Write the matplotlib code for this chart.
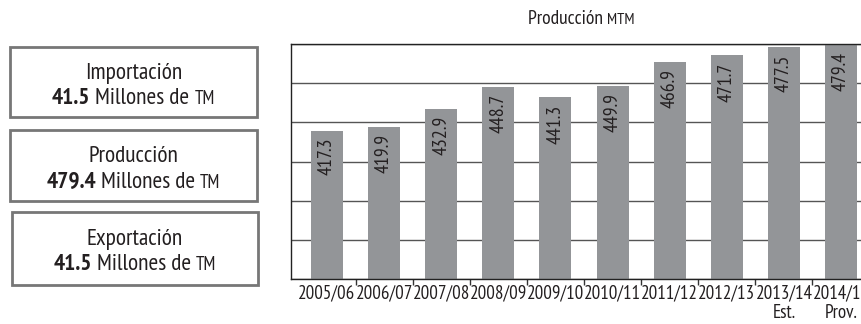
import matplotlib
matplotlib.use("Agg")
import matplotlib.pyplot as plt
from matplotlib.patches import Rectangle
import numpy as np

plt.rcParams['font.family'] = ['PT Sans Narrow', 'DejaVu Sans']

categories = ["2005/06", "2006/07", "2007/08", "2008/09", "2009/10",
              "2010/11", "2011/12", "2012/13", "2013/14", "2014/15"]
sub_labels = ["", "", "", "", "", "", "", "", "Est.", "Prov."]
values = [417.3, 419.9, 432.9, 448.7, 441.3, 449.9, 466.9, 471.7, 477.5, 479.4]

box_titles = ["Importación", "Producción", "Exportación"]
box_values = ["41.5", "479.4", "41.5"]
box_unit_word = " Millones de "
box_unit_sc = "TM"

title_main = "Producción "
title_sc = "MTM"

TXT = "#231f20"
BAR = "#939598"
W, H = 862, 324

fig = plt.figure(figsize=(W / 100, H / 100), dpi=100)

def fx(px):
    return px / W

def fy(py):
    return 1 - py / H

# Chart axes (extends past right edge like the reference)
ax = fig.add_axes([fx(291), fy(279), fx(877) - fx(291), fy(44) - fy(279)])
x = np.arange(len(categories))
ax.bar(x, values, width=0.56, color=BAR, zorder=2)
ax.set_xlim(-0.63, len(categories) - 1 + 0.63)
ax.set_ylim(310, 480)
ax.set_yticks(np.linspace(310, 480, 7))
ax.set_yticklabels([])
ax.tick_params(axis='y', length=0)
ax.grid(axis='y', color='#555555', linewidth=1.0, zorder=0)
ax.set_axisbelow(True)

labels = [c if s == "" else c + "\n" + s for c, s in zip(categories, sub_labels)]
ax.set_xticks(x)
ax.set_xticklabels(labels, fontsize=13.7, color=TXT, linespacing=1.08)
ax.tick_params(axis='x', which='major', length=0, pad=4)
ax.set_xticks(x[:-1] + 0.5, minor=True)
ax.tick_params(axis='x', which='minor', length=4, width=1, color='#333333', direction='out')

for s in ['top', 'bottom', 'left', 'right']:
    ax.spines[s].set_color('#222222')
    ax.spines[s].set_linewidth(1.0)

for xi, v in zip(x, values):
    ax.annotate(f"{v:.1f}", xy=(xi, v), xytext=(0, -5), textcoords='offset points',
                rotation=90, ha='center', va='top', fontsize=14.3, color=TXT, zorder=3)

fig.canvas.draw()
renderer = fig.canvas.get_renderer()

def place_pieces(pieces, cx, cy):
    objs = []
    widths = []
    for t, size, weight in pieces:
        o = fig.text(0, fy(cy), t, fontsize=size, fontweight=weight, color=TXT,
                     ha='left', va='baseline')
        probe = fig.text(0, 0, "|" + t + "|", fontsize=size, fontweight=weight)
        probe_bar = fig.text(0, 0, "||", fontsize=size, fontweight=weight)
        w = probe.get_window_extent(renderer=renderer).width - \
            probe_bar.get_window_extent(renderer=renderer).width
        probe.remove()
        probe_bar.remove()
        objs.append(o)
        widths.append(w)
    total = sum(widths)
    cur = cx - total / 2
    for o, w in zip(objs, widths):
        o.set_x(fx(cur))
        cur += w

# Title
place_pieces([(title_main, 14, 'normal'), (title_sc, 11.5, 'normal')], 581, 24)

# Boxes
boxes = [(10, 47, 257, 117), (10, 130, 257, 201), (12, 212, 258, 285)]
for (x0, y0, x1, y1), t, val in zip(boxes, box_titles, box_values):
    r = Rectangle((fx(x0), fy(y1)), fx(x1) - fx(x0), fy(y0) - fy(y1),
                  transform=fig.transFigure, fill=False, edgecolor='#777777', linewidth=2)
    fig.patches.append(r)
    cx = (x0 + x1) / 2
    cy = (y0 + y1) / 2
    fig.text(fx(cx), fy(cy - 3), t, fontsize=16.8, color=TXT, ha='center', va='baseline')
    place_pieces([(val, 16.8, 'bold'), (box_unit_word, 16.8, 'normal'), (box_unit_sc, 13.5, 'normal')],
                 cx, cy + 22)

fig.savefig("out.png", dpi=100)
